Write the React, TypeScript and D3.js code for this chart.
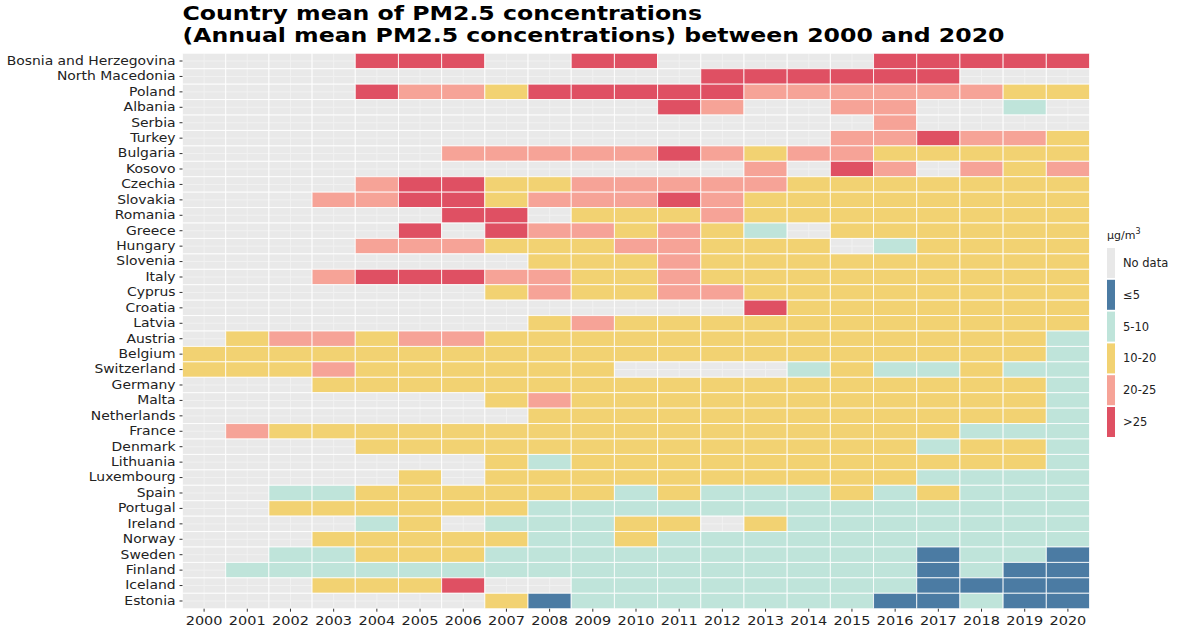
import React, { useEffect, useRef } from "react";
import * as d3 from "d3";

// countries top to bottom, as in the picture
const countries = [
  "Bosnia and Herzegovina", "North Macedonia", "Poland", "Albania", "Serbia",
  "Turkey", "Bulgaria", "Kosovo", "Czechia", "Slovakia", "Romania", "Greece",
  "Hungary", "Slovenia", "Italy", "Cyprus", "Croatia", "Latvia", "Austria",
  "Belgium", "Switzerland", "Germany", "Malta", "Netherlands", "France",
  "Denmark", "Lithuania", "Luxembourg", "Spain", "Portugal", "Ireland",
  "Norway", "Sweden", "Finland", "Iceland", "Estonia",
];

const years = d3.range(2000, 2021).map(String);

// one char per year 2000..2020
// . = no data, b = <=5, t = 5-10, y = 10-20, p = 20-25, r = >25
const levels = [
  "....rrr..rr.....rrrrr",
  "............rrrrrr...",
  "....rppyrrrrrppppppyy",
  "...........rp..pp..t.",
  "................p....",
  "...............pprppy",
  "......ppppprpyppyyyyy",
  ".............p.rp.pyp",
  "....prryypppppyyyyyyy",
  "...pprryppprpyyyyyyyy",
  "......rr.yyypyyyyyyyy",
  ".....r.rppypyt.yyyyyy",
  "....pppyyyppyyy.tyyyy",
  "........yyypyyyyyyyyy",
  "...prrrppyypyyyyyyyyy",
  ".......ypyyppyyyyyyyy",
  ".............ryyyyyyy",
  "........ypyyyyyyyyyyy",
  ".yppyppyyyyyyyyyyyyyt",
  "yyyyyyyyyyyyyyyyyyyyt",
  "yyypyyyyyy....tyttytt",
  "...yyyyyyyyyyyyyyyyyt",
  ".......ypyyyyyyyyyyyt",
  "........yyyyyyyyyyyyt",
  ".pyyyyyyyyyyyyyyyyttt",
  "....yyyyyyyyyyyyytyyt",
  ".......ytyyyyyyyyyyyt",
  ".....y.yyyyyyyyyytttt",
  "..ttyyyyyytytttytyttt",
  "..yyyyyyttttttttttttt",
  "....ty.tttyy.yttttttt",
  "...yyyyyttytttttttttt",
  "..ttyyyttttttttttbttb",
  ".ttttttttttttttttbtbb",
  "...yyyr..ttttttttbbbb",
  ".......ybtttttttbbtbb",
];

const codes = [".", "b", "t", "y", "p", "r"];
const classLabels = ["No data", "≤5", "5-10", "10-20", "20-25", ">25"];
const classColors = ["#e8e8e8", "#4b7ba3", "#bfe4da", "#f2d272", "#f6a397", "#df5063"];

// the source picture is a bit stretched sideways
const stretch = 1.16;

export default function App() {
  const ref = useRef<SVGSVGElement>(null);

  useEffect(() => {
    const svg = d3.select(ref.current);
    svg.selectAll("*").remove();

    const left = 182.5, right = 1089.5, top = 53.3, bottom = 608.7;

    const x = d3.scaleBand().domain(years).range([left, right]).padding(0);
    const y = d3.scaleBand().domain(countries).range([top, bottom]).padding(0);
    const color = d3.scaleOrdinal<string, string>().domain(codes).range(classColors);

    const cells = countries.flatMap((c, i) =>
      years.map((yr, j) => ({ country: c, year: yr, code: levels[i][j] }))
    );

    // title
    const title = svg.append("text")
      .attr("transform", `translate(${left}, 0) scale(1.18, 1)`)
      .attr("font-family", "DejaVu Sans")
      .attr("font-weight", "bold")
      .attr("font-size", 20)
      .attr("fill", "#000");
    title.append("tspan").attr("x", 0).attr("y", 20).text("Country mean of PM2.5 concentrations");
    title.append("tspan").attr("x", 0).attr("y", 42)
      .text("(Annual mean PM2.5 concentrations) between 2000 and 2020");

    // panel
    svg.append("rect")
      .attr("x", left).attr("y", top)
      .attr("width", right - left).attr("height", bottom - top)
      .attr("fill", "#ebebeb");

    const grid = svg.append("g").attr("stroke", "#fff").attr("stroke-width", 1);
    grid.selectAll("line.v").data(years).enter().append("line")
      .attr("x1", d => x(d)! + x.bandwidth() / 2).attr("x2", d => x(d)! + x.bandwidth() / 2)
      .attr("y1", top).attr("y2", bottom);
    grid.selectAll("line.h").data(countries).enter().append("line")
      .attr("y1", d => y(d)! + y.bandwidth() / 2).attr("y2", d => y(d)! + y.bandwidth() / 2)
      .attr("x1", left).attr("x2", right);

    svg.append("g").selectAll("rect").data(cells).enter().append("rect")
      .attr("x", d => x(d.year)!)
      .attr("y", d => y(d.country)!)
      .attr("width", x.bandwidth())
      .attr("height", y.bandwidth())
      .attr("fill", d => color(d.code))
      .attr("fill-opacity", d => (d.code === "." ? 0.6 : 1))
      .attr("stroke", "#fff")
      .attr("stroke-opacity", 0.8)
      .attr("stroke-width", 1);

    // axes
    const xAxis = svg.append("g")
      .attr("transform", `translate(0, ${bottom})`)
      .call(d3.axisBottom(x).tickSize(3).tickPadding(4));
    xAxis.select(".domain").remove();
    xAxis.selectAll("text")
      .attr("font-family", "DejaVu Sans").attr("font-size", 12.5).attr("fill", "#222")
      .attr("transform", `scale(${stretch}, 1)`);
    xAxis.selectAll("line").attr("stroke", "#333");

    const yAxis = svg.append("g")
      .attr("transform", `translate(${left}, 0)`)
      .call(d3.axisLeft(y).tickSize(3).tickPadding(3));
    yAxis.select(".domain").remove();
    yAxis.selectAll("text")
      .attr("font-family", "DejaVu Sans").attr("font-size", 12).attr("fill", "#222")
      .attr("transform", `scale(${stretch}, 1)`);
    yAxis.selectAll("line").attr("stroke", "#333");

    // legend
    const lg = svg.append("g").attr("transform", "translate(1107, 0)");
    const lt = lg.append("text").attr("x", 0).attr("y", 239)
      .attr("font-family", "DejaVu Sans").attr("font-size", 11).attr("fill", "#222");
    lt.append("tspan").text("µg/m");
    lt.append("tspan").attr("dy", -5).attr("font-size", 8).text("3");

    const keys = lg.selectAll("g.key").data(codes).enter().append("g")
      .attr("transform", (d, i) => `translate(0, ${248 + i * 31.8})`);
    keys.append("rect")
      .attr("width", 8).attr("height", 30)
      .attr("fill", d => color(d));
    keys.append("text")
      .attr("x", 16).attr("y", 15).attr("dy", "0.35em")
      .attr("font-family", "DejaVu Sans").attr("font-size", 11.5).attr("fill", "#222")
      .text((d, i) => classLabels[i]);
  }, []);

  return (
    <svg ref={ref} width={1182} height={630}
      style={{ position: "absolute", left: 0, top: 0, background: "#fff" }} />
  );
}
